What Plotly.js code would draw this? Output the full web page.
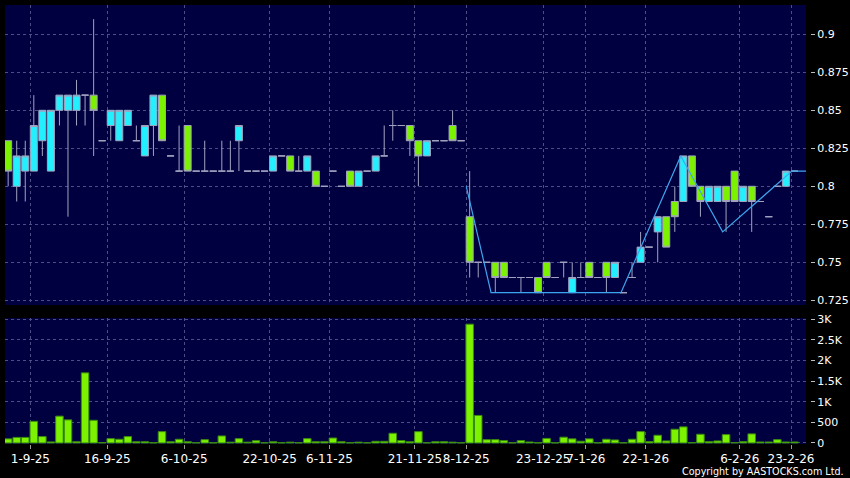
<!DOCTYPE html>
<html>
<head>
<meta charset="utf-8">
<script src="https://cdn.plot.ly/plotly-3.0.1.min.js"></script>
<style>
html,body{margin:0;padding:0;background:#000;}
#chart{width:850px;height:478px;}
</style>
</head>
<body>
<div id="chart"></div>
<script>
// Daily OHLC (one entry per trading session, in order)
const openP  = [0.83,0.80,0.81,0.81,0.83,0.81,0.85,0.85,0.85,0.86,0.86,0.83,0.84,0.83,0.84,0.83,0.82,0.84,0.86,0.82,
                0.81,0.84,0.81,0.81,0.81,0.81,0.81,0.83,0.81,0.81,0.81,0.81,0.82,0.82,0.81,0.81,0.81,0.80,0.81,0.80,
                0.81,0.80,0.81,0.81,0.82,0.84,0.84,0.84,0.83,0.82,0.83,0.83,0.84,0.83,0.78,0.75,0.75,0.75,0.75,0.74,
                0.74,0.74,0.74,0.75,0.74,0.75,0.73,0.74,0.75,0.74,0.75,0.74,0.73,0.74,0.75,0.76,0.77,0.78,0.79,0.79,
                0.82,0.80,0.79,0.79,0.80,0.81,0.79,0.80,0.79,0.78,0.80,0.80,0.81];
const highP  = [0.83,0.83,0.83,0.86,0.85,0.85,0.86,0.86,0.87,0.86,0.91,0.83,0.85,0.85,0.85,0.84,0.84,0.86,0.86,0.82,
                0.84,0.84,0.81,0.83,0.81,0.83,0.83,0.84,0.81,0.81,0.81,0.82,0.82,0.82,0.82,0.82,0.81,0.80,0.81,0.80,
                0.81,0.81,0.81,0.82,0.84,0.85,0.84,0.84,0.83,0.83,0.83,0.83,0.85,0.83,0.81,0.75,0.75,0.75,0.75,0.74,
                0.74,0.74,0.74,0.75,0.74,0.75,0.75,0.75,0.75,0.74,0.75,0.75,0.73,0.75,0.77,0.76,0.78,0.78,0.80,0.82,
                0.82,0.80,0.80,0.80,0.80,0.81,0.80,0.80,0.79,0.78,0.80,0.81,0.81];
const lowP   = [0.80,0.79,0.79,0.81,0.82,0.81,0.84,0.78,0.84,0.84,0.82,0.83,0.83,0.83,0.84,0.83,0.82,0.82,0.83,0.82,
                0.81,0.81,0.81,0.81,0.81,0.81,0.81,0.81,0.81,0.81,0.81,0.81,0.82,0.81,0.81,0.81,0.80,0.80,0.81,0.80,
                0.80,0.80,0.81,0.81,0.82,0.83,0.84,0.82,0.80,0.82,0.83,0.83,0.83,0.83,0.74,0.74,0.75,0.73,0.74,0.74,
                0.73,0.74,0.73,0.74,0.74,0.74,0.73,0.74,0.74,0.74,0.73,0.74,0.73,0.74,0.75,0.76,0.75,0.76,0.77,0.79,
                0.80,0.78,0.79,0.79,0.77,0.79,0.79,0.77,0.79,0.78,0.80,0.80,0.81];
const closeP = [0.81,0.82,0.82,0.84,0.85,0.85,0.86,0.86,0.86,0.86,0.85,0.83,0.85,0.85,0.85,0.83,0.84,0.86,0.83,0.82,
                0.81,0.81,0.81,0.81,0.81,0.81,0.81,0.84,0.81,0.81,0.81,0.82,0.82,0.81,0.81,0.82,0.80,0.80,0.81,0.80,
                0.80,0.81,0.81,0.82,0.82,0.84,0.84,0.83,0.82,0.83,0.83,0.83,0.83,0.83,0.75,0.75,0.75,0.74,0.74,0.74,
                0.74,0.74,0.73,0.74,0.74,0.75,0.74,0.74,0.74,0.74,0.74,0.75,0.73,0.74,0.76,0.76,0.78,0.76,0.78,0.82,
                0.80,0.79,0.80,0.80,0.79,0.79,0.80,0.79,0.79,0.78,0.80,0.81,0.81];
const volume = [100,135,135,525,155,25,650,560,30,1700,550,8,105,90,155,30,30,5,275,30,
                90,30,5,80,5,170,20,105,20,55,5,30,5,20,5,105,30,30,120,30,
                5,20,5,40,40,235,57,30,275,5,30,30,20,5,2880,667,80,80,57,5,
                57,24,5,110,5,140,100,42,100,5,90,73,5,90,276,33,187,49,333,390,
                8,211,32,49,203,8,32,220,24,24,81,24,24];

// Zigzag indicator vertices (session position, price)
const zigzagPos = [53.6, 56.5, 71.7, 78.7, 83.6, 91.7, 93.4];
const zigzagVal = [0.80, 0.73, 0.73, 0.82, 0.77, 0.81, 0.81];

// Date labels and the session they mark
const dateLabels = ['1-9-25','16-9-25','6-10-25','22-10-25','6-11-25','21-11-25','8-12-25','23-12-25','7-1-26','22-1-26','6-2-26','23-2-26'];
const dateSession = [3,12,21,31,38,48,54,63,68,75,86,92];

const priceTicks = [0.725,0.75,0.775,0.8,0.825,0.85,0.875,0.9];
const priceTickText = ['0.725','0.75','0.775','0.8','0.825','0.85','0.875','0.9'];
const volTicks = [0,500,1000,1500,2000,2500,3000];
const volTickText = ['0','500','1K','1.5K','2K','2.5K','3K'];

const idx = openP.map((_, i) => i);

const gridCol = '#4e4e86';
const wickCol = '#a2a2c0';

const traces = [
  {
    type: 'candlestick', x: idx, open: openP, high: highP, low: lowP, close: closeP,
    xaxis: 'x', yaxis: 'y',
    increasing: {fillcolor: '#22f0ff', line: {color: wickCol, width: 1}},
    decreasing: {fillcolor: '#7cf200', line: {color: wickCol, width: 1}},
    whiskerwidth: 0, hoverinfo: 'skip', showlegend: false
  },
  {
    type: 'scatter', mode: 'lines', x: zigzagPos, y: zigzagVal,
    xaxis: 'x', yaxis: 'y',
    line: {color: '#3ea6ee', width: 1.2}, hoverinfo: 'skip', showlegend: false
  },
  {
    type: 'bar', x: idx, y: volume, xaxis: 'x', yaxis: 'y2',
    marker: {color: '#7cf200', line: {color: '#3a8a10', width: 1}},
    hoverinfo: 'skip', showlegend: false
  }
];

const tickFont = {family: 'DejaVu Sans', size: 11, color: '#ffffff'};

const layout = {
  width: 850, height: 478,
  margin: {l: 5, r: 40, t: 5, b: 34, pad: 0},
  paper_bgcolor: '#000000',
  plot_bgcolor: '#000040',
  showlegend: false,
  bargap: 0.12,
  boxgap: 0.18, boxgroupgap: 0,
  xaxis: {
    domain: [0, 0.995],
    anchor: 'y2',
    range: [-0.37, 93.35],
    tickvals: dateSession.map(s => s - 0.4),
    ticktext: dateLabels,
    tickangle: 0,
    ticks: 'outside', ticklen: 4, tickcolor: '#9a9a9a',
    tickfont: {family: 'DejaVu Sans', size: 12, color: '#ffffff'},
    showgrid: true, gridcolor: gridCol, gridwidth: 1, griddash: '3px,3px',
    zeroline: false, showline: false,
    rangeslider: {visible: false},
    fixedrange: true
  },
  yaxis: {
    domain: [0.3166, 1],
    anchor: 'free', position: 1, side: 'right',
    range: [0.7219, 0.9193],
    tickvals: priceTicks, ticktext: priceTickText,
    ticks: 'outside', ticklen: 4, tickcolor: '#bbbbbb',
    tickfont: tickFont,
    showgrid: true, gridcolor: gridCol, gridwidth: 1, griddash: '3px,3px',
    zeroline: false, showline: false
  },
  yaxis2: {
    domain: [0, 0.287],
    anchor: 'free', position: 1, side: 'right',
    range: [-25, 3030],
    tickvals: volTicks, ticktext: volTickText,
    ticks: 'outside', ticklen: 4, tickcolor: '#bbbbbb',
    tickfont: tickFont,
    showgrid: true, gridcolor: gridCol, gridwidth: 1, griddash: '3px,3px',
    zeroline: false, showline: false
  },
  annotations: [{
    text: 'Copyright by AASTOCKS.com Ltd.',
    xref: 'paper', yref: 'paper', x: 1.0447, y: -0.0625,
    xanchor: 'right', yanchor: 'middle', showarrow: false,
    font: {family: 'DejaVu Sans', size: 9.6, color: '#ffffff'}
  }]
};

Plotly.newPlot('chart', traces, layout, {displayModeBar: false, staticPlot: true});
</script>
</body>
</html>
